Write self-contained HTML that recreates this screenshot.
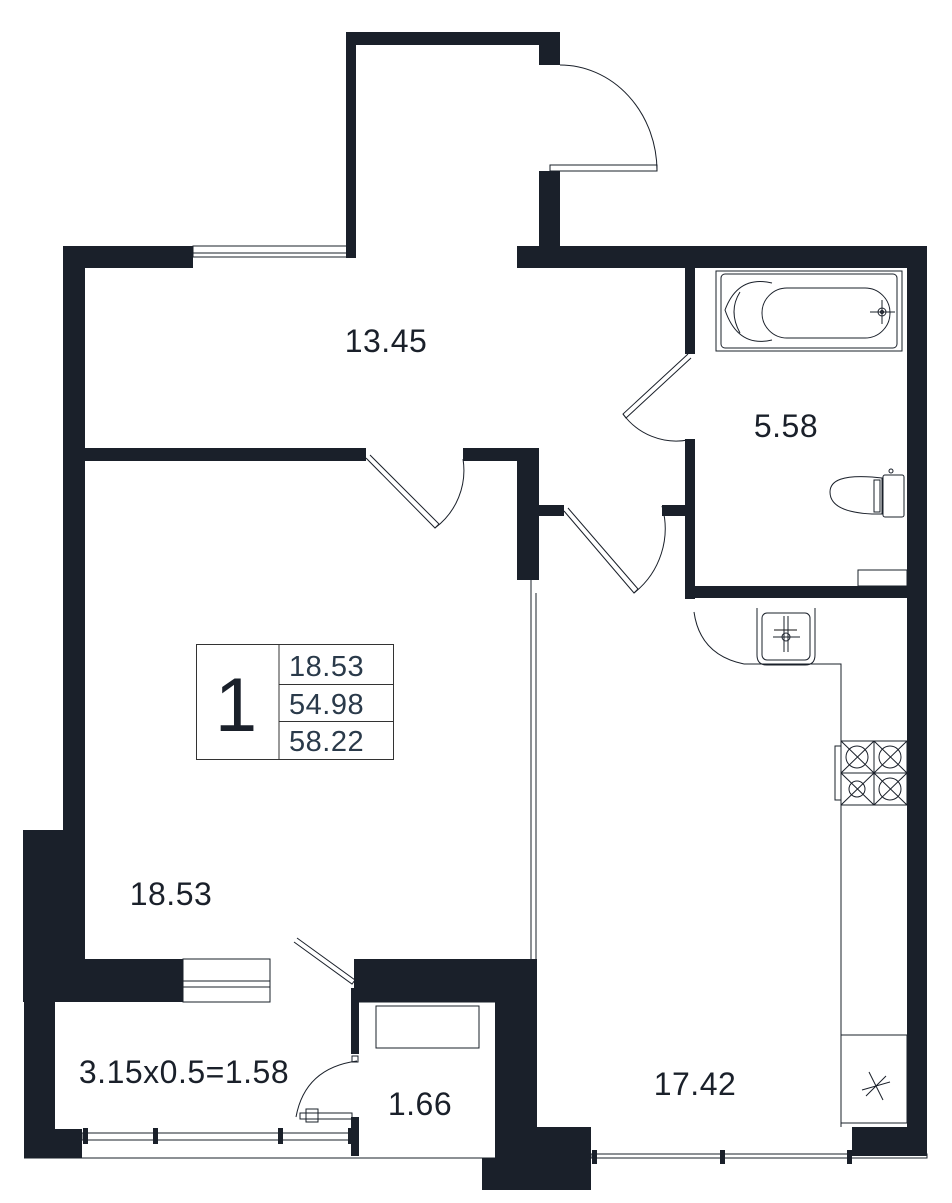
<!DOCTYPE html>
<html><head><meta charset="utf-8"><style>
html,body{margin:0;padding:0;background:#fff;}
svg{display:block;}
text{font-family:"Liberation Sans",sans-serif;fill:#1a202a;}
</style></head><body>
<svg width="952" height="1203" viewBox="0 0 952 1203" xmlns="http://www.w3.org/2000/svg">
<g fill="#1a202a">
<rect x="346" y="32" width="214" height="13"/>
<rect x="346" y="32" width="10" height="226"/>
<rect x="539" y="32" width="21" height="33"/>
<rect x="539" y="171" width="21" height="78"/>
<rect x="63" y="246" width="130" height="22"/>
<rect x="517" y="246" width="410" height="22"/>
<rect x="63" y="246" width="22" height="590"/>
<rect x="23" y="830" width="62" height="172"/>
<rect x="83" y="959" width="100" height="43"/>
<rect x="63" y="448" width="303" height="13"/>
<rect x="463" y="448" width="76" height="13"/>
<rect x="517" y="448" width="22" height="132"/>
<rect x="539" y="505" width="25" height="11"/>
<rect x="685" y="268" width="10" height="86"/>
<rect x="685" y="439" width="10" height="160"/>
<rect x="662" y="505" width="33" height="11"/>
<rect x="685" y="586" width="240" height="12"/>
<rect x="907" y="246" width="20" height="910"/>
<rect x="852" y="1127" width="75" height="29"/>
<rect x="354" y="959" width="183" height="43"/>
<rect x="495" y="1000" width="42" height="158"/>
<rect x="537" y="1127" width="54" height="63"/>
<rect x="482" y="1158" width="109" height="32"/>
<rect x="24" y="1000" width="31" height="158"/>
<rect x="55" y="1129" width="27" height="29"/>
<rect x="351" y="988" width="8" height="66"/>
<rect x="351" y="1117" width="8" height="39"/>
</g>
<g fill="none" stroke="#1a202a" stroke-width="1">
<rect x="193" y="246" width="160" height="11"/>
<line x1="193" y1="253" x2="353" y2="253"/>
<rect x="550" y="165" width="107" height="6"/>
<path d="M560 65 A97 106 0 0 1 657 171"/>
<rect x="716" y="271" width="186" height="80"/>
<rect x="721" y="274" width="176" height="74" rx="4"/>
<path d="M772 283 Q738 275 725 310 Q738 348 772 340"/>
<path d="M740 292 Q728 311 740 333"/>
<rect x="762" y="288" width="128" height="50" rx="25"/>
<circle cx="882" cy="312" r="4"/>
<circle cx="882" cy="312" r="1.5"/>
<line x1="870" y1="312" x2="895" y2="312"/>
<line x1="882" y1="300" x2="882" y2="324"/>
<path d="M688 354 L623 414 L626 418 L691 358"/>
<path d="M623 414 A66 66 0 0 0 688 440"/>
<path d="M366 458 L435 528 L439 524 L370 455"/>
<path d="M435 528 A72 72 0 0 0 463 459"/>
<path d="M564 511 L634 593 L638 589 L568 508"/>
<path d="M634 593 A82 82 0 0 0 662 506"/>
<rect x="883" y="475" width="21" height="42" rx="2"/>
<path d="M882 478 L872 477 Q830 474 830 492 Q830 512 872 514 L882 514 Z"/>
<rect x="874" y="480" width="6" height="32"/>
<circle cx="891" cy="471" r="2"/>
<rect x="858" y="570" width="49" height="16"/>
<path d="M757 608 L757 655 Q757 665 767 665 L805 665 Q815 665 815 655 L815 608"/>
<rect x="762" y="613" width="48" height="47" rx="5"/>
<line x1="774" y1="630" x2="797" y2="630" stroke="#888" stroke-width="2"/>
<line x1="784" y1="616" x2="784" y2="652"/>
<line x1="788" y1="616" x2="788" y2="652"/>
<circle cx="786" cy="637" r="4"/>
<line x1="773" y1="637" x2="800" y2="637"/>
<path d="M694 612 Q700 655 744 664"/>
<polyline points="744,664 841,664 841,1127"/>
<rect x="841" y="741" width="66" height="64"/>
<line x1="874" y1="741" x2="874" y2="805"/>
<line x1="841" y1="773" x2="907" y2="773"/>
<rect x="835" y="746" width="6" height="54"/>
<circle cx="857" cy="757" r="11"/><circle cx="890" cy="757" r="11"/>
<circle cx="857" cy="789" r="8"/><circle cx="890" cy="789" r="11"/>
<path d="M841 741 L874 773 M874 741 L841 773 M874 741 L907 773 M907 741 L874 773 M841 773 L874 805 M874 773 L841 805 M874 773 L907 805 M907 773 L874 805"/>
<rect x="841" y="1035" width="66" height="88"/>
<path d="M869 1072 L883 1100 M862 1090 L890 1082 M866 1096 L886 1076"/>
<line x1="531" y1="580" x2="531" y2="1000"/>
<line x1="536" y1="593" x2="536" y2="1127"/>
<rect x="183" y="959" width="87" height="43"/>
<line x1="183" y1="981" x2="270" y2="981"/>
<line x1="183" y1="987" x2="270" y2="987"/>
<path d="M294 942 L352 984 L355 980 L297 938"/>
<rect x="376" y="1006" width="103" height="42"/>
<line x1="359" y1="1002" x2="495" y2="1002"/>
<path d="M357 1061 Q305 1068 296 1117"/>
<rect x="352" y="1056" width="6" height="6"/>
<rect x="300" y="1113" width="52" height="6"/>
<rect x="306" y="1109" width="12" height="13"/>
<rect x="82" y="1133" width="270" height="7"/>
<line x1="24" y1="1158" x2="495" y2="1158"/>
<rect x="591" y="1154" width="336" height="4"/>
</g>
<g fill="#1a202a">
<rect x="83" y="1128" width="5" height="16"/><rect x="153" y="1128" width="5" height="16"/><rect x="278" y="1128" width="5" height="16"/><rect x="348" y="1128" width="5" height="16"/>
<rect x="592" y="1150" width="5" height="14"/><rect x="720" y="1150" width="5" height="14"/><rect x="847" y="1150" width="5" height="14"/>
</g>
<g fill="none" stroke="#333" stroke-width="1">
<rect x="196.5" y="644.5" width="197" height="115"/>
<line x1="279" y1="644" x2="279" y2="760"/>
<line x1="279" y1="684.5" x2="394" y2="684.5"/>
<line x1="279" y1="721.5" x2="394" y2="721.5"/>
</g>
<text x="236" y="731" font-size="76" text-anchor="middle">1</text>
<g font-size="29" letter-spacing="0.5">
<text x="289" y="676" style="fill:#2a3a4a">18.53</text>
<text x="289" y="714" style="fill:#2a3a4a">54.98</text>
<text x="289" y="751" style="fill:#2a3a4a">58.22</text>
</g>
<g font-size="32" letter-spacing="0.5">
<text x="386" y="352" text-anchor="middle">13.45</text>
<text x="786" y="437" text-anchor="middle">5.58</text>
<text x="171" y="905" text-anchor="middle">18.53</text>
<text x="184" y="1083" text-anchor="middle">3.15x0.5=1.58</text>
<text x="420" y="1115" text-anchor="middle">1.66</text>
<text x="695" y="1095" text-anchor="middle">17.42</text>
</g>
</svg>
</body></html>
